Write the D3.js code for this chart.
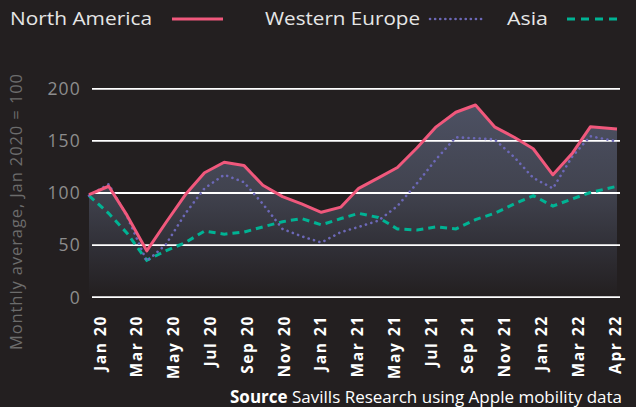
<!DOCTYPE html>
<html>
<head>
<meta charset="utf-8">
<script src="https://cdn.jsdelivr.net/npm/d3@7"></script>
<style>
  body { margin: 0; background: #231f20; }
  svg { display: block; font-family: "Open Sans", sans-serif; }
</style>
</head>
<body>
<script>
// monthly points (last one is the partial April average)
var months = ["2020-01-01", "2020-02-01", "2020-03-01", "2020-04-01", "2020-05-01", "2020-06-01",
              "2020-07-01", "2020-08-01", "2020-09-01", "2020-10-01", "2020-11-01", "2020-12-01",
              "2021-01-01", "2021-02-01", "2021-03-01", "2021-04-01", "2021-05-01", "2021-06-01",
              "2021-07-01", "2021-08-01", "2021-09-01", "2021-10-01", "2021-11-01", "2021-12-01",
              "2022-01-01", "2022-02-01", "2022-03-01", "2022-04-12"];

var northAmerica = [98, 106, 78, 44, 71, 98, 119, 129, 126, 107, 96, 89,
                    81, 86, 104, 114, 124, 143, 163, 177, 184, 163, 153, 142,
                    117, 138, 163, 161];
var westernEurope = [97, 108, 77, 34, 50, 80, 104, 117, 110, 89, 65, 58,
                     52, 62, 67, 73, 87, 109, 132, 153, 152, 151, 134, 114,
                     104, 135, 154, 149];
var asia = [97, 80, 61, 35, 44, 52, 63, 60, 62, 67, 72, 75,
            69, 75, 80, 76, 65, 64, 67, 65, 74, 80, 89, 97,
            87, 94, 100, 106];

var tickLabels = ["Jan 20", "Mar 20", "May 20", "Jul 20", "Sep 20", "Nov 20", "Jan 21", "Mar 21",
                  "May 21", "Jul 21", "Sep 21", "Nov 21", "Jan 22", "Mar 22", "Apr 22"];
var yTicks = [0, 50, 100, 150, 200];

var width = 636, height = 407;
var pink = "#f0587c", purple = "#6c68b8", teal = "#00b394";

var parseDate = d3.timeParse("%Y-%m-%d");
var dates = months.map(parseDate);

var x = d3.scaleTime().domain(d3.extent(dates)).range([89, 617]);
var y = d3.scaleLinear().domain([0, 200]).range([296.7, 88.3]);
var xLabel = d3.scalePoint().domain(tickLabels).range([100, 615]);

var svg = d3.select("body").append("svg")
    .attr("width", width)
    .attr("height", height);

svg.append("rect").attr("width", width).attr("height", height).attr("fill", "#231f20");

// gradient for the area under north america
var grad = svg.append("defs").append("linearGradient")
    .attr("id", "areaFill")
    .attr("gradientUnits", "userSpaceOnUse")
    .attr("x1", 0).attr("x2", 0)
    .attr("y1", y(185)).attr("y2", y(0));
grad.append("stop").attr("offset", "0%").attr("stop-color", "#4d5163");
grad.append("stop").attr("offset", "45%").attr("stop-color", "#41434f");
grad.append("stop").attr("offset", "75%").attr("stop-color", "#302f36");
grad.append("stop").attr("offset", "100%").attr("stop-color", "#231f20");

var area = d3.area()
    .x(function(d, i) { return x(dates[i]); })
    .y0(y(0))
    .y1(function(d) { return y(d); });

svg.append("path")
    .datum(northAmerica)
    .attr("fill", "url(#areaFill)")
    .attr("d", area);

// gridlines + y labels
var yAxis = svg.append("g")
    .attr("transform", "translate(92,0)")
    .call(d3.axisLeft(y).tickValues(yTicks).tickSize(-528).tickPadding(11))
    .attr("font-family", null)
    .attr("font-size", null);
yAxis.select(".domain").remove();
yAxis.selectAll(".tick line").attr("stroke", "#ffffff").attr("stroke-width", 1.8);
yAxis.selectAll(".tick text")
    .attr("fill", "#8d8d8d")
    .style("font-family", "'Open Sans', sans-serif")
    .style("font-size", "17.5px")
    .style("letter-spacing", "1.2px")
    .attr("dy", "0.36em");

svg.append("text")
    .attr("transform", "translate(22,212) rotate(-90)")
    .attr("text-anchor", "middle")
    .attr("fill", "#6c6c6c")
    .style("font-size", "16.5px")
    .attr("textLength", 276)
    .attr("lengthAdjust", "spacing")
    .text("Monthly average, Jan 2020 = 100");

// x labels
svg.selectAll(".xlab")
    .data(tickLabels)
    .enter().append("text")
    .attr("class", "xlab")
    .attr("transform", function(d) { return "translate(" + xLabel(d) + ",315) rotate(-90)"; })
    .attr("text-anchor", "end")
    .attr("dy", "0.36em")
    .attr("fill", "#ffffff")
    .style("font-size", "15.5px")
    .style("font-weight", "bold")
    .style("letter-spacing", "1.6px")
    .text(function(d) { return d; });

var line = d3.line()
    .x(function(d, i) { return x(dates[i]); })
    .y(function(d) { return y(d); });

svg.append("path")
    .datum(asia)
    .attr("fill", "none")
    .attr("stroke", teal)
    .attr("stroke-width", 3)
    .attr("stroke-dasharray", "7,5")
    .attr("d", line);

svg.append("path")
    .datum(westernEurope)
    .attr("fill", "none")
    .attr("stroke", purple)
    .attr("stroke-width", 2.6)
    .attr("stroke-linecap", "round")
    .attr("stroke-dasharray", "0.1,5.5")
    .attr("d", line);

svg.append("path")
    .datum(northAmerica)
    .attr("fill", "none")
    .attr("stroke", pink)
    .attr("stroke-width", 3)
    .attr("stroke-linejoin", "round")
    .attr("d", line);

// legend
var legend = [
  {name: "North America", tx: 10, len: 142, lx1: 172, lx2: 223, color: pink, dash: null},
  {name: "Western Europe", tx: 265, len: 155, lx1: 430, lx2: 484, color: purple, dash: "0.1,5"},
  {name: "Asia", tx: 507, len: 41, lx1: 567, lx2: 621, color: teal, dash: "8,6"}
];
legend.forEach(function(d) {
  var dotted = d.dash && d.dash.indexOf("0.1") === 0;
  svg.append("text")
      .attr("x", d.tx).attr("y", 25)
      .attr("fill", "#e6e6e6")
      .style("font-size", "19px")
      .attr("textLength", d.len)
      .attr("lengthAdjust", "spacingAndGlyphs")
      .text(d.name);
  svg.append("line")
      .attr("x1", d.lx1).attr("x2", d.lx2)
      .attr("y1", 19).attr("y2", 19)
      .attr("stroke", d.color)
      .attr("stroke-width", dotted ? 2.6 : 3)
      .attr("stroke-linecap", dotted ? "round" : "butt")
      .attr("stroke-dasharray", d.dash);
});

// source note
var src = svg.append("text")
    .attr("x", 622).attr("y", 403)
    .attr("text-anchor", "end")
    .attr("fill", "#ffffff")
    .style("font-size", "17px");
src.append("tspan").style("font-weight", "bold").text("Source");
src.append("tspan").text(" Savills Research using Apple mobility data");
</script>
</body>
</html>
